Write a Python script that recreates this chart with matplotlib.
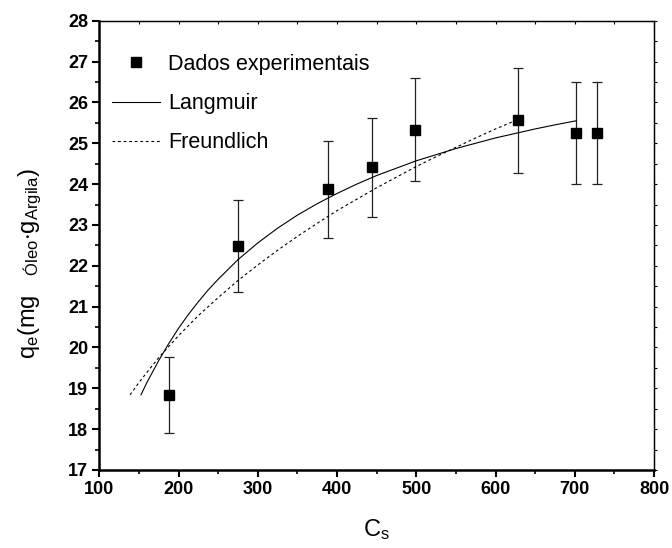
import numpy as np
import matplotlib
matplotlib.use('Agg')
import matplotlib.pyplot as plt

plt.rcParams['font.family'] = ['Liberation Sans', 'DejaVu Sans']
plt.rcParams['mathtext.fontset'] = 'custom'
plt.rcParams['mathtext.rm'] = 'Liberation Sans'
plt.rcParams['mathtext.it'] = 'Liberation Sans'

# dados experimentais
cs = [188.4, 274.7, 388.8, 444.3, 498.2, 629.0, 701.0, 727.5]
qe = [18.83, 22.48, 23.87, 24.41, 25.33, 25.56, 25.25, 25.25]
qe_err = [0.93, 1.13, 1.19, 1.21, 1.26, 1.28, 1.26, 1.26]

# curva Langmuir
lang_c = [152.6, 160, 175, 187.5, 200, 212.5, 225, 237.5, 250, 275, 300, 325, 350,
          375, 400, 425, 450, 475, 500, 525, 550, 575, 600, 625, 650, 675, 702]
lang_q = [18.84, 19.14, 19.68, 20.09, 20.47, 20.81, 21.12, 21.41, 21.67, 22.15,
          22.56, 22.92, 23.24, 23.52, 23.77, 24.00, 24.21, 24.39, 24.57, 24.72,
          24.87, 25.00, 25.13, 25.24, 25.35, 25.45, 25.55]

# curva Freundlich
freu_c = [138.8, 150, 162.5, 175, 187.5, 200, 225, 250, 275, 300, 325, 350, 375,
          400, 425, 450, 475, 500, 525, 550, 575, 600, 627]
freu_q = [18.84, 19.14, 19.45, 19.75, 20.02, 20.29, 20.78, 21.22, 21.64, 22.02,
          22.38, 22.72, 23.04, 23.35, 23.63, 23.91, 24.17, 24.43, 24.67, 24.90,
          25.13, 25.35, 25.57]

fig = plt.figure(figsize=(6.72, 5.48), dpi=100)
ax = fig.add_axes([99.3 / 672, 1 - 470 / 548, (654 - 99.3) / 672, (470 - 20.7) / 548])

ax.errorbar(cs, qe, yerr=qe_err, fmt='none', ecolor='#222222', elinewidth=0.9,
            capsize=3.6, capthick=0.9, zorder=2)
pts, = ax.plot(cs, qe, 's', color='black', markersize=7.2, linestyle='none', zorder=3,
               label='Dados experimentais')
lang, = ax.plot(lang_c, lang_q, '-', color='black', linewidth=0.8, label='Langmuir')
freu, = ax.plot(freu_c, freu_q, color='black', linewidth=0.8, dashes=(2.5, 2.5),
                label='Freundlich')

ax.set_xlim(100, 800)
ax.set_ylim(17, 28)
ax.set_xticks(np.arange(100, 801, 100))
ax.set_yticks(np.arange(17, 29, 1))
ax.set_xticks(np.arange(150, 800, 100), minor=True)
ax.set_yticks(np.arange(17.5, 28, 1), minor=True)

ax.tick_params(axis='both', which='major', direction='out', length=5, width=1.5,
               labelsize=13, pad=3)
ax.tick_params(axis='both', which='minor', direction='out', length=3, width=1.2)
for lab in ax.get_xticklabels() + ax.get_yticklabels():
    lab.set_fontweight('bold')

# eixos de cima e da direita
axt = ax.secondary_xaxis('top')
axt.set_xticks(np.arange(100, 801, 50))
axt.tick_params(direction='in', length=2.5, width=0.8, labeltop=False)
axt.set_xticklabels([])
axr = ax.secondary_yaxis('right')
axr.set_yticks(np.arange(17, 28.1, 0.5))
axr.tick_params(direction='out', length=2.5, width=0.8)
axr.set_yticklabels([])

ax.spines['left'].set_linewidth(1.8)
ax.spines['bottom'].set_linewidth(1.8)
ax.spines['top'].set_linewidth(0.9)
ax.spines['right'].set_linewidth(0.9)
axt.spines['top'].set_linewidth(0.9)
axr.spines['right'].set_linewidth(0.9)

ax.set_xlabel(r'C$_\mathregular{s}$', fontsize=17)
ax.xaxis.set_label_coords(0.5, -0.105)
ax.set_ylabel(r'q$_\mathregular{e}$(mg   $_\mathregular{Óleo}$$\cdot$g$_\mathregular{Argila}$)',
              fontsize=17)
ax.yaxis.set_label_coords(-0.10, 0.46)

ax.legend(handles=[pts, lang, freu], loc='upper left', bbox_to_anchor=(0.0, 0.955),
          frameon=False, fontsize=15.5, handlelength=2.2, handletextpad=0.4,
          labelspacing=0.85, borderpad=0.3, borderaxespad=0.3)

fig.savefig('out.png', dpi=100)
